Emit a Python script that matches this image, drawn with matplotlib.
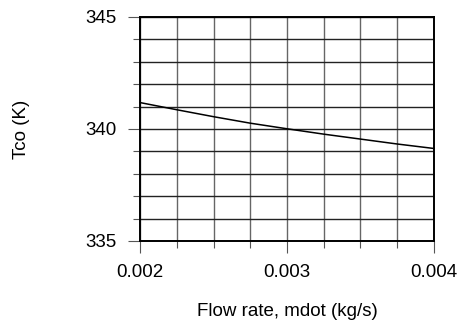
import matplotlib
matplotlib.use("Agg")
import matplotlib.pyplot as plt
from matplotlib.ticker import MultipleLocator, FixedLocator

# Data
flow_rate = [0.002, 0.00225, 0.0025, 0.00275, 0.003, 0.00325, 0.0035, 0.00375, 0.004]
tco = [341.18, 340.86, 340.55, 340.26, 340.01, 339.77, 339.55, 339.33, 339.13]

x_ticks = [0.002, 0.003, 0.004]
x_tick_labels = ["0.002", "0.003", "0.004"]
y_ticks = [335, 340, 345]
y_tick_labels = ["335", "340", "345"]

plt.rcParams['font.family'] = ['Liberation Sans', 'DejaVu Sans']

fig = plt.figure(figsize=(4.59, 3.24), dpi=100)
ax = fig.add_axes([140/459, 1-241/324, (434-140)/459, (241-17)/324])

ax.plot(flow_rate, tco, color='black', lw=1.1, zorder=3, clip_on=False)

ax.set_xlim(0.002, 0.004)
ax.set_ylim(335, 345)

ax.xaxis.set_major_locator(FixedLocator(x_ticks))
ax.set_xticklabels(x_tick_labels)
ax.yaxis.set_major_locator(FixedLocator(y_ticks))
ax.set_yticklabels(y_tick_labels)
ax.xaxis.set_minor_locator(MultipleLocator(0.00025))
ax.yaxis.set_minor_locator(MultipleLocator(1))

ax.grid(True, which='both', axis='x', color='#666666', lw=1.0, zorder=1)
ax.grid(True, which='both', axis='y', color='#222222', lw=1.0, zorder=1)

ax.tick_params(which='major', direction='out', length=8.6, width=0.8, labelsize=13.5, pad=8, color='#555555')
ax.tick_params(which='minor', direction='out', length=5, width=0.8, color='#555555')
ax.tick_params(top=False, right=False)

for s in ax.spines.values():
    s.set_linewidth(1.4)
    s.set_color('black')
    s.set_zorder(4)

ax.set_xlabel("Flow rate, mdot (kg/s)", fontsize=13.5, labelpad=16)
ax.set_ylabel("Tco (K)", fontsize=13.5, labelpad=40)

fig.savefig("out.png", dpi=100)
